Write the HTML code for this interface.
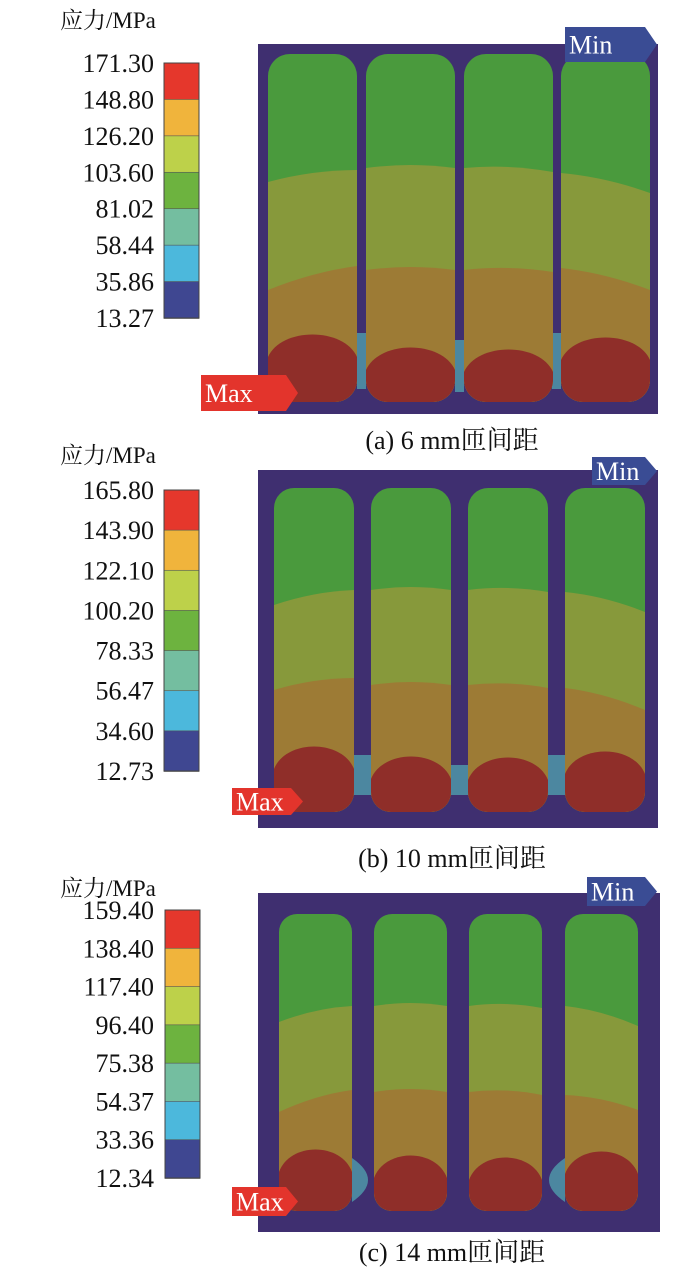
<!DOCTYPE html>
<html><head><meta charset="utf-8"><style>
html,body{margin:0;padding:0;background:#fff;}
svg{display:block;}
text{font-family:"Liberation Serif","Noto Serif CJK SC",serif;}
</style></head><body>
<svg id="s" width="700" height="1288" viewBox="0 0 700 1288" xmlns="http://www.w3.org/2000/svg"></svg>
<script>
var S=document.getElementById('s'),h='';
var P=[
{t:20,cb:[164,63,35,255],labels:['171.30','148.80','126.20','103.60','81.02','58.44','35.86','13.27'],
 plate:[258,44,400,370],cx:[268,366,464,561],cw:89,cy:54,ch:348,r:22,
 b1:[[182,170],[168,168],[168,172],[173,193]],b2:[[290,266],[270,270],[270,272],[268,290]],red:[335,348,350,338],
 teal:[[357,333,9,56],[455,340,9,52],[552,333,9,56]],
 max:[201,375,97,36],min:[565,27,92,35],cap:'(a) 6 mm匝间距',capy:449},
{t:455,cb:[164,490,35,281],labels:['165.80','143.90','122.10','100.20','78.33','56.47','34.60','12.73'],
 plate:[258,470,400,358],cx:[274,371,468,565],cw:80,cy:488,ch:324,r:20,
 b1:[[605,590],[590,590],[590,592],[592,612]],b2:[[690,678],[685,685],[685,688],[688,710]],red:[747,757,758,752],
 teal:[[354,755,17,40],[451,765,17,30],[548,755,17,40]],
 max:[232,788,71,27],min:[592,457,65,28],cap:'(b) 10 mm匝间距',capy:867},
{t:888,cb:[165,910,35,268],labels:['159.40','138.40','117.40','96.40','75.38','54.37','33.36','12.34'],
 plate:[258,893,402,339],cx:[279,374,469,565],cw:73,cy:914,ch:297,r:18,
 b1:[[1022,1006],[1006,1006],[1006,1008],[1006,1026]],b2:[[1112,1090],[1092,1092],[1092,1095],[1095,1110]],red:[1150,1156,1158,1152],
 teal:[],lens:[[352,1180,1],[565,1180,-1]],
 max:[232,1187,66,29],min:[587,877,70,29],cap:'(c) 14 mm匝间距',capy:1261}
];
var bc=['#e5372c','#f0b43c','#bdd14a','#6db33f','#74bea0','#4cb8dc','#3f4791'];
P.forEach(function(p,pi){
 h+='<text x="60" y="'+(p.t+8)+'" font-size="23" fill="#111">应力/MPa</text>';
 var bh=p.cb[3]/7;
 for(var i=0;i<7;i++)h+='<rect x="'+p.cb[0]+'" y="'+(p.cb[1]+i*bh)+'" width="'+p.cb[2]+'" height="'+(bh+0.5)+'" fill="'+bc[i]+'" stroke="#555" stroke-width="0.6"/>';
 h+='<rect x="'+p.cb[0]+'" y="'+p.cb[1]+'" width="'+p.cb[2]+'" height="'+p.cb[3]+'" fill="none" stroke="#444" stroke-width="1"/>';
 p.labels.forEach(function(l,i){h+='<text x="154" y="'+(p.cb[1]+i*bh+9)+'" font-size="26" text-anchor="end" fill="#111">'+l+'</text>';});
 var pl=p.plate;
 h+='<rect x="'+pl[0]+'" y="'+pl[1]+'" width="'+pl[2]+'" height="'+pl[3]+'" fill="#3f2f70"/>';
 p.teal.forEach(function(t){h+='<rect x="'+t[0]+'" y="'+t[1]+'" width="'+t[2]+'" height="'+t[3]+'" fill="#4c87a0"/>';});
 (p.lens||[]).forEach(function(l){var x=l[0],y=l[1],d=l[2];h+='<path d="M'+x+' '+(y-22)+' Q'+(x+d*32)+' '+y+' '+x+' '+(y+22)+' Z" fill="#4c87a0"/>';});
 p.cx.forEach(function(x,i){
  var id='c'+pi+'_'+i,w=p.cw,y=p.cy,b=p.cy+p.ch;
  h+='<clipPath id="'+id+'"><rect x="'+x+'" y="'+y+'" width="'+w+'" height="'+p.ch+'" rx="'+p.r+'"/></clipPath><g clip-path="url(#'+id+')">';
  h+='<rect x="'+x+'" y="'+y+'" width="'+w+'" height="'+p.ch+'" fill="#4a9a3d"/>';
  var a=p.b1[i];h+='<path d="M'+x+' '+a[0]+' Q'+(x+w/2)+' '+((a[0]+a[1])/2-6)+' '+(x+w)+' '+a[1]+' L'+(x+w)+' '+b+' L'+x+' '+b+'Z" fill="#87993b"/>';
  a=p.b2[i];h+='<path d="M'+x+' '+a[0]+' Q'+(x+w/2)+' '+((a[0]+a[1])/2-6)+' '+(x+w)+' '+a[1]+' L'+(x+w)+' '+b+' L'+x+' '+b+'Z" fill="#9d7b35"/>';
  var r=p.red[i];h+='<path d="M'+x+' '+b+' L'+x+' '+(r+22)+' C'+(x+w*0.15)+' '+(r-8)+' '+(x+w*0.85)+' '+(r-8)+' '+(x+w)+' '+(r+22)+' L'+(x+w)+' '+b+'Z" fill="#8f2e29"/>';
  h+='</g>';
 });
 var m=p.max;
 h+='<path d="M'+m[0]+' '+m[1]+' L'+(m[0]+m[2]-12)+' '+m[1]+' L'+(m[0]+m[2])+' '+(m[1]+m[3]/2)+' L'+(m[0]+m[2]-12)+' '+(m[1]+m[3])+' L'+m[0]+' '+(m[1]+m[3])+'Z" fill="#e3342c"/>';
 h+='<text x="'+(m[0]+4)+'" y="'+(m[1]+m[3]/2+9)+'" font-size="26" fill="#fff">Max</text>';
 m=p.min;
 h+='<path d="M'+m[0]+' '+m[1]+' L'+(m[0]+m[2]-12)+' '+m[1]+' L'+(m[0]+m[2])+' '+(m[1]+m[3]/2)+' L'+(m[0]+m[2]-12)+' '+(m[1]+m[3])+' L'+m[0]+' '+(m[1]+m[3])+'Z" fill="#3a4c94"/>';
 h+='<text x="'+(m[0]+4)+'" y="'+(m[1]+m[3]/2+9)+'" font-size="26" fill="#fff">Min</text>';
 h+='<text x="452" y="'+p.capy+'" font-size="26" text-anchor="middle" fill="#111">'+p.cap+'</text>';
});
S.innerHTML=h;
</script>
</body></html>
